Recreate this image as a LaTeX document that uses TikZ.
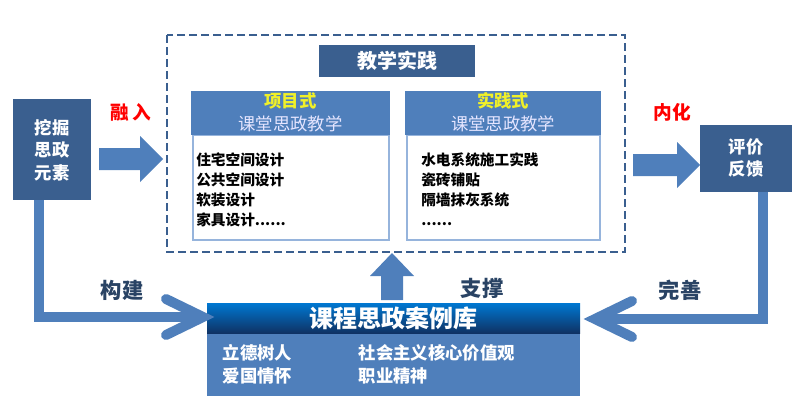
\documentclass[tikz,border=0pt]{standalone}
\usepackage{fontspec}
\newfontfamily\cjk{Noto Sans CJK SC}
\definecolor{darkbl}{RGB}{58,95,143}
\definecolor{midbl}{RGB}{79,127,187}
\definecolor{lightbl}{RGB}{150,180,220}
\definecolor{topbl}{RGB}{0,120,210}
\definecolor{botbl}{RGB}{15,50,100}
\definecolor{yel}{RGB}{240,240,40}
\newcommand\rarrow[3]{% x left, x tip, y centre
  \fill [midbl] (#1,#3-11) -- (#2-23,#3-11) -- (#2-23,#3-23) -- (#2,#3) -- (#2-23,#3+23) -- (#2-23,#3+11) -- (#1,#3+11) -- cycle;}
\begin{document}
\begin{tikzpicture}[x=0.75pt,y=0.75pt,yscale=-1,xscale=1,font=\cjk\bfseries,
  flow/.style={midbl,line width=7.5pt},
  lbl/.style={text=darkbl!70!black,font=\cjk\bfseries\fontsize{16}{18}\selectfont},
  item/.style={anchor=north west,align=left,inner sep=0pt,font=\cjk\bfseries\fontsize{11}{15}\selectfont,text width=180pt},
  big/.style={font=\cjk\bfseries\fontsize{13}{17}\selectfont}]
\useasboundingbox (0,0) rectangle (806,403);

%frame
\draw [darkbl,line width=1.8pt,dash pattern=on 6pt off 3pt] (167,35) rectangle (625,252);
\fill [darkbl] (319,45) rectangle (475,77);
\node (title) [text=white,font=\cjk\bfseries\fontsize{15}{18}\selectfont] at (397,61) {教学实践};

%sub boxes
\foreach \xa/\xb/\nm/\ty in {191/390/pa/项目式,405/601/pb/实践式}{
  \draw [lightbl,line width=1.2pt,fill=white] (\xa+2,135) rectangle (\xb-1,240);
  \fill [midbl] (\xa,91) rectangle (\xb,135);
  \node (\nm) [text=yel,big] at ({(\xa+\xb)/2},101) {\ty};
  \node (\nm s) [text=white!90!blue,font=\cjk\fontsize{13}{16}\selectfont] at ({(\xa+\xb)/2},124) {课堂思政教学};
}
\node (la) [item] at (196,152) {住宅空间设计\\公共空间设计\\软装设计\\家具设计......};
\node (lb) [item] at (421,152) {水电系统施工实践\\瓷砖铺贴\\隔墙抹灰系统\\......};

%side boxes
\fill [darkbl] (13,99) rectangle (91,200);
\node (dig) [text=white,align=center,big] at (52,150) {挖掘\\思政\\元素};
\fill [darkbl] (700,125) rectangle (792,192);
\node (eval) [text=white,align=center,big] at (746,158) {评价\\反馈};

%block arrows
\rarrow{99}{163}{159}
\rarrow{633}{700}{165}
\fill [midbl] (381,300) -- (381,276) -- (370,276) -- (392,253) -- (414,276) -- (403,276) -- (403,300) -- cycle;

%library
\shade [top color=topbl,bottom color=botbl] (207,303) rectangle (580,333);
\fill [midbl] (207,334) rectangle (580,396);
\node (lib) [text=white,font=\cjk\bfseries\fontsize{18}{20}\selectfont] at (393,318) {课程思政案例库};
\node (v1) [anchor=west,text=white,align=left,big] at (218,364) {立德树人\\爱国情怀};
\node (v2) [anchor=west,text=white,align=left,big] at (354,364) {社会主义核心价值观\\职业精神};

%loops
\draw [flow] (39,200) -- (39,317) -- (200,317);
\draw [flow,line cap=round] (166,299) -- (203,317) -- (166,335);
\draw [flow] (763,192) -- (763,319) -- (597,319);
\draw [flow,line cap=round] (632,301) -- (595,319) -- (632,337);

%labels
\node (rr) [text=red,font=\cjk\bfseries\fontsize{14}{16}\selectfont] at (131,112) {融\,入};
\node (nh) [text=red,font=\cjk\bfseries\fontsize{14}{16}\selectfont] at (672,112) {内化};
\node (gj) [lbl] at (122,290) {构建};
\node (zc) [lbl] at (482,288) {支撑};
\node (ws) [lbl] at (680,290) {完善};
\end{tikzpicture}
\end{document}
